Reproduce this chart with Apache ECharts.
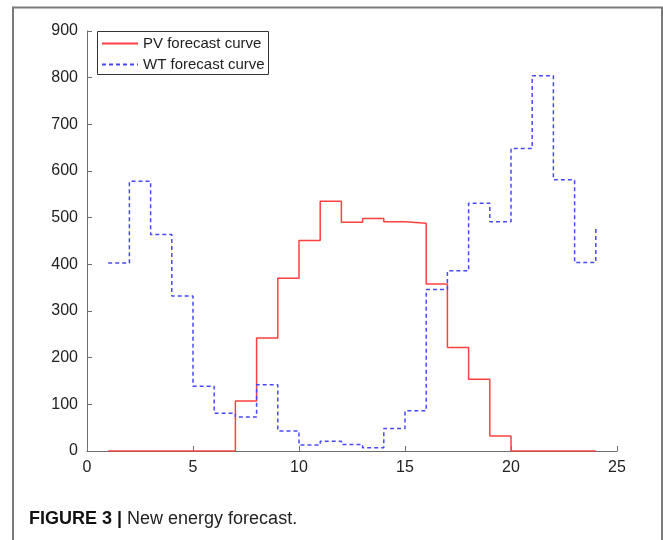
<!DOCTYPE html>
<html>
<head>
<meta charset="utf-8">
<script src="https://cdn.jsdelivr.net/npm/echarts@6/dist/echarts.min.js"></script>
<style>
  html, body { margin: 0; padding: 0; background: #fff; }
  #chart { width: 663px; height: 540px; }
</style>
</head>
<body>
<div id="chart"></div>
<script>
// Hourly forecast (hours 1..24), drawn as stairs
const hours = [1, 2, 3, 4, 5, 6, 7, 8, 9, 10, 11, 12, 13, 14, 15, 16, 17, 18, 19, 20, 21, 22, 23, 24];
const pvForecast = [0, 0, 0, 0, 0, 0, 107, 242, 370, 451, 535, 490, 498, 491, 488, 358, 222, 154, 32, 0, 0, 0, 0, 0];
const wtForecast = [403, 578, 464, 332, 139, 81, 73, 142, 43, 13, 21, 14, 7, 48, 86, 346, 386, 531, 491, 648, 804, 581, 404, 480];
const seriesNames = ['PV forecast curve', 'WT forecast curve'];
const xTicks = { min: 0, max: 25, interval: 5 };
const yTicks = { min: 0, max: 900, interval: 100 };

const pairs = (vals) => hours.map((h, i) => [h, vals[i]]);

const chart = echarts.init(document.getElementById('chart'), null, { renderer: 'canvas' });
const axisColor = '#6e6e6e';
const font = 'Liberation Sans, Arial, Helvetica, sans-serif';

chart.setOption({
  animation: false,
  backgroundColor: '#ffffff',
  textStyle: { fontFamily: font },
  grid: { left: 87, right: 46, top: 31, bottom: 89, containLabel: false },
  xAxis: {
    type: 'value',
    min: xTicks.min, max: xTicks.max, interval: xTicks.interval,
    axisLine: { show: true, onZero: false, lineStyle: { color: axisColor, width: 1 } },
    axisTick: { show: true, inside: true, length: 5, lineStyle: { color: axisColor } },
    axisLabel: { color: '#222', fontSize: 16, margin: 9, fontFamily: font },
    splitLine: { show: false }
  },
  yAxis: {
    type: 'value',
    min: yTicks.min, max: yTicks.max, interval: yTicks.interval,
    axisLine: { show: true, lineStyle: { color: axisColor, width: 1 } },
    axisTick: { show: true, inside: true, length: 5, lineStyle: { color: axisColor } },
    axisLabel: { color: '#222', fontSize: 16, margin: 9, fontFamily: font },
    splitLine: { show: false }
  },
  legend: {
    orient: 'vertical',
    left: 101, top: 36,
    padding: 0,
    itemWidth: 36, itemHeight: 14, itemGap: 6,
    itemStyle: { opacity: 0 },
    textStyle: { fontSize: 15, color: '#222', fontFamily: font, padding: [0, 0, 0, 0] },
    data: seriesNames
  },
  graphic: [
    // legend frame
    { type: 'rect', z: 0, shape: { x: 97.5, y: 31.5, width: 171, height: 43 },
      style: { fill: '#fff', stroke: '#333', lineWidth: 1 } },
    // figure frame
    { type: 'polyline', z: 10, shape: { points: [[13, 540], [13, 7.5], [662, 7.5], [662, 540]] },
      style: { fill: null, stroke: '#7a7a7a', lineWidth: 2 } },
    // caption
    { type: 'text', left: 29, top: 510,
      style: {
        text: '{b|FIGURE 3 |} New energy forecast.',
        rich: {
          b: { fontWeight: 'bold', fontSize: 18, fill: '#111', fontFamily: font }
        },
        fontSize: 18, fill: '#222', fontFamily: font
      } }
  ],
  series: [
    {
      name: seriesNames[0], type: 'line', step: 'end', showSymbol: false, symbol: 'none', z: 3,
      lineStyle: { color: '#ff4040', width: 1.5 },
      itemStyle: { color: '#ff4040' },
      data: pairs(pvForecast)
    },
    {
      name: seriesNames[1], type: 'line', step: 'end', showSymbol: false, symbol: 'none', z: 4,
      lineStyle: { color: '#4848ff', width: 1.5, type: [4, 3] },
      itemStyle: { color: '#4848ff' },
      data: pairs(wtForecast)
    }
  ]
});
</script>
</body>
</html>
